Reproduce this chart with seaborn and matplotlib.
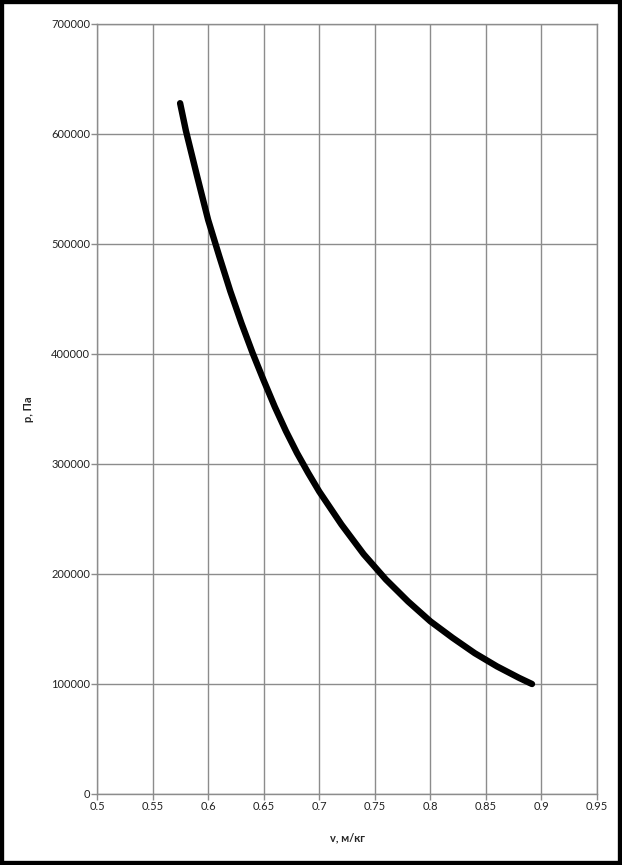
import matplotlib
matplotlib.use("Agg")
import matplotlib.pyplot as plt
import seaborn as sns
import pandas as pd
from matplotlib.patches import Rectangle

v = [0.5748, 0.580, 0.590, 0.600, 0.610, 0.620, 0.630, 0.640, 0.650, 0.660, 0.670,
     0.680, 0.690, 0.700, 0.720, 0.740, 0.760, 0.780, 0.800, 0.820, 0.840, 0.860,
     0.880, 0.8915]
p = [628000, 603000, 562000, 522000, 489000, 457000, 428000, 401000, 376000, 352000, 330000,
     310000, 292000, 275000, 245000, 218000, 195000, 175000, 157000, 142000, 128000, 116000,
     105500, 100000]

x_ticks = [0.5, 0.55, 0.6, 0.65, 0.7, 0.75, 0.8, 0.85, 0.9, 0.95]
y_ticks = [0, 100000, 200000, 300000, 400000, 500000, 600000, 700000]
x_label = "v, м/кг"
y_label = "p, Па"

df = pd.DataFrame({"v": v, "p": p})

sns.set_theme(style="white")
plt.rcParams["font.family"] = ["Lato", "DejaVu Sans"]

fig = plt.figure(figsize=(6.22, 8.65), dpi=100)
ax = fig.add_axes([97/622, 1-794/865, 500/622, 770/865])

sns.lineplot(data=df, x="v", y="p", ax=ax, color="black", linewidth=4.6,
             solid_capstyle="round", solid_joinstyle="round", sort=False)

ax.set_xlim(0.5, 0.95)
ax.set_ylim(0, 700000)
ax.set_xticks(x_ticks)
ax.set_xticklabels([f"{t:g}" for t in x_ticks])
ax.set_yticks(y_ticks)
ax.set_yticklabels([str(t) for t in y_ticks])
ax.grid(True, color="#8c8c8c", linewidth=1)
ax.set_axisbelow(True)
for s in ax.spines.values():
    s.set_color("#8c8c8c")
    s.set_linewidth(1)
ax.tick_params(axis="both", length=4, width=1, color="#8c8c8c", labelsize=8,
               labelcolor="#222222", pad=1, direction="out", bottom=True, left=True)
ax.set_xlabel(x_label, fontsize=8, fontweight="bold", labelpad=15)
ax.set_ylabel(y_label, fontsize=8, fontweight="bold", labelpad=12)

fig.patches.append(Rectangle((0, 0), 1, 1, transform=fig.transFigure, fill=False,
                             edgecolor="black", linewidth=6, zorder=10))

fig.savefig("out.png", dpi=100)
